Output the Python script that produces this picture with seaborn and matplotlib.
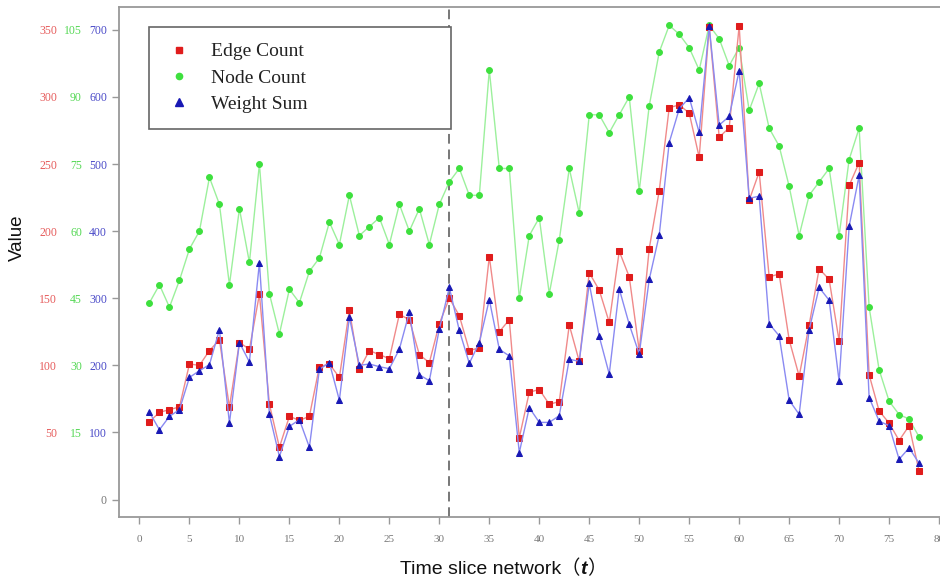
import matplotlib
matplotlib.use("Agg")
import matplotlib.pyplot as plt
from matplotlib.lines import Line2D
import seaborn as sns
import pandas as pd

# ---------------- data ----------------
t = list(range(1, 79))
edge_count = [58, 65, 67, 69, 101, 100, 111, 119, 69, 117, 112, 153, 71, 39, 62, 59, 62, 99, 101, 91,
              141, 97, 111, 108, 105, 138, 134, 108, 102, 131, 150, 137, 111, 113, 181, 125, 134, 46, 80, 82,
              71, 73, 130, 103, 169, 156, 132, 185, 166, 111, 187, 230, 292, 294, 288, 255, 352, 270, 277, 353,
              223, 244, 166, 168, 119, 92, 130, 172, 164, 118, 234, 251, 93, 66, 57, 44, 55, 21]
node_count = [44, 48, 43, 49, 56, 60, 72, 66, 48, 65, 53, 75, 46, 37, 47, 44, 51, 54, 62, 57,
              68, 59, 61, 63, 57, 66, 60, 65, 57, 66, 71, 74, 68, 68, 96, 74, 74, 45, 59, 63,
              46, 58, 74, 64, 86, 86, 82, 86, 90, 69, 88, 100, 106, 104, 101, 96, 106, 103, 97, 101,
              87, 93, 83, 79, 70, 59, 68, 71, 74, 59, 76, 83, 43, 29, 22, 19, 18, 14]
weight_sum = [130, 104, 124, 134, 182, 192, 201, 253, 114, 234, 205, 353, 127, 64, 109, 119, 78, 194, 204, 148,
              272, 200, 202, 198, 195, 224, 279, 186, 177, 254, 316, 252, 203, 234, 298, 224, 214, 70, 137, 115,
              115, 125, 209, 206, 322, 243, 187, 314, 261, 217, 328, 394, 532, 582, 599, 547, 705, 558, 571, 639,
              449, 452, 262, 244, 148, 127, 253, 316, 297, 176, 407, 483, 152, 117, 110, 60, 77, 54]

series_names = ["Edge Count", "Node Count", "Weight Sum"]
edge_ticks = [50, 100, 150, 200, 250, 300, 350]
node_ticks = [15, 30, 45, 60, 75, 90, 105]
weight_ticks = [0, 100, 200, 300, 400, 500, 600, 700]
x_ticks = list(range(0, 81, 5))
split_t = 31

df = pd.DataFrame({"t": t, "edge": edge_count, "node": node_count, "weight": weight_sum})

# ---------------- style ----------------
sns.set_theme(style="white")
plt.rcParams["font.family"] = ["Liberation Serif", "DejaVu Sans"]

RED_M, RED_L = "#e01c1c", "#f08a8a"
GRN_M, GRN_L = "#3ee03e", "#9cf09c"
BLU_M, BLU_L = "#1818b4", "#8a8af2"
RED_T, GRN_T, BLU_T = "#e65c5c", "#55d855", "#4a4ac8"
GRAY = "#999999"

fig = plt.figure(figsize=(9.4, 5.84), dpi=100)
ax_g = fig.add_axes([0.1271, 0.1147, 0.873, 0.8728])
ax_r = ax_g.twinx()
ax_b = ax_g.twinx()

# common scale: weight 700 <-> edge 350 <-> node 105
wlim = (-26, 733.5)
ax_b.set_ylim(*wlim)
ax_r.set_ylim(wlim[0] / 2, wlim[1] / 2)
ax_g.set_ylim(wlim[0] * 0.15, wlim[1] * 0.15)

ax_g.axvline(split_t, color="#777777", ls=(0, (5, 3)), lw=1.4, zorder=0)

sns.lineplot(data=df, x="t", y="node", ax=ax_g, color=GRN_L, lw=1.0,
             marker="o", markersize=4.2, markerfacecolor=GRN_M, markeredgecolor=GRN_M)
sns.lineplot(data=df, x="t", y="edge", ax=ax_r, color=RED_L, lw=1.0,
             marker="s", markersize=4.3, markerfacecolor=RED_M, markeredgecolor=RED_M)
sns.lineplot(data=df, x="t", y="weight", ax=ax_b, color=BLU_L, lw=1.0,
             marker="^", markersize=4.8, markerfacecolor=BLU_M, markeredgecolor=BLU_M)

for a in (ax_g, ax_r, ax_b):
    a.set_xlim(-2.0, 80.1)
    a.set_xlabel("")
    a.set_ylabel("")

# spines
for a in (ax_r, ax_b):
    for s in a.spines.values():
        s.set_visible(False)
for name, s in ax_g.spines.items():
    s.set_color(GRAY)
    s.set_linewidth(1.3)
ax_g.spines["right"].set_visible(False)

# x axis
ax_g.set_xticks(x_ticks)
ax_g.set_xticklabels([str(v) for v in x_ticks])
ax_g.tick_params(axis="x", direction="out", length=5, width=1, color=GRAY,
                 labelsize=8, labelcolor="#777777", pad=8, bottom=True)

# y axes - all labels on the left
ax_b.yaxis.tick_left()
ax_b.set_yticks(weight_ticks)
ax_b.set_yticklabels([str(v) for v in weight_ticks])
ax_b.tick_params(axis="y", direction="out", length=5, width=1, color=GRAY,
                 labelsize=8.5, pad=4, left=True, right=False, labelleft=True, labelright=False)
for lab, v in zip(ax_b.get_yticklabels(), weight_ticks):
    lab.set_color("#777777" if v == 0 else BLU_T)

ax_r.yaxis.tick_left()
ax_r.set_yticks(edge_ticks)
ax_r.set_yticklabels([str(v) for v in edge_ticks])
ax_r.tick_params(axis="y", length=0, labelsize=8.5, pad=45, labelcolor=RED_T,
                 left=True, right=False, labelleft=True, labelright=False)

ax_g.set_yticks(node_ticks)
ax_g.set_yticklabels([str(v) for v in node_ticks])
ax_g.tick_params(axis="y", length=0, labelsize=8.5, pad=27, labelcolor=GRN_T, left=True)

# axis titles
fig.text(0.0186, 0.593, "Value", rotation=90, ha="center", va="center",
         fontsize=13.5, family=["Liberation Sans", "DejaVu Sans"], color="#111111")

# x label built from pieces: "Time slice network" + full-width parens + bold italic t
renderer = fig.canvas.get_renderer()
pieces = [
    ("Time slice network", dict(family=["Liberation Sans", "DejaVu Sans"])),
    ("\uff08", dict(family=["Noto Sans CJK SC", "DejaVu Sans"])),
    ("t", dict(family=["Liberation Sans", "DejaVu Sans"], style="italic", weight="bold")),
    ("\uff09", dict(family=["Noto Sans CJK SC", "DejaVu Sans"])),
]
y_lab = 15.0 / 584.0
objs = []
x_px = 0.0
for s, kw in pieces:
    tx = fig.text(x_px / 940.0, y_lab, s, ha="left", va="center", fontsize=14, color="#111111", **kw)
    w = tx.get_window_extent(renderer=renderer).width
    objs.append((tx, x_px))
    x_px += w
total = x_px
start = 503.0 - total / 2.0
for tx, off in objs:
    tx.set_x((start + off) / 940.0)

# legend
handles = [
    Line2D([], [], ls="none", marker="s", markersize=4.5, color=RED_M),
    Line2D([], [], ls="none", marker="o", markersize=4.5, color=GRN_M),
    Line2D([], [], ls="none", marker="^", markersize=5.5, color=BLU_M),
]
leg = ax_b.legend(handles, series_names, loc="upper left",
                  bbox_to_anchor=(0.0363, 0.7606, 0.3677, 0.2002), mode="expand",
                  fontsize=14, frameon=True, fancybox=False, framealpha=1,
                  edgecolor="#666666", borderpad=0.8, labelspacing=0.45,
                  handlelength=1.5, handletextpad=0.9, borderaxespad=0)
leg.get_frame().set_linewidth(1.2)
for txt in leg.get_texts():
    txt.set_color("#222222")

fig.savefig("out.png", dpi=100)
